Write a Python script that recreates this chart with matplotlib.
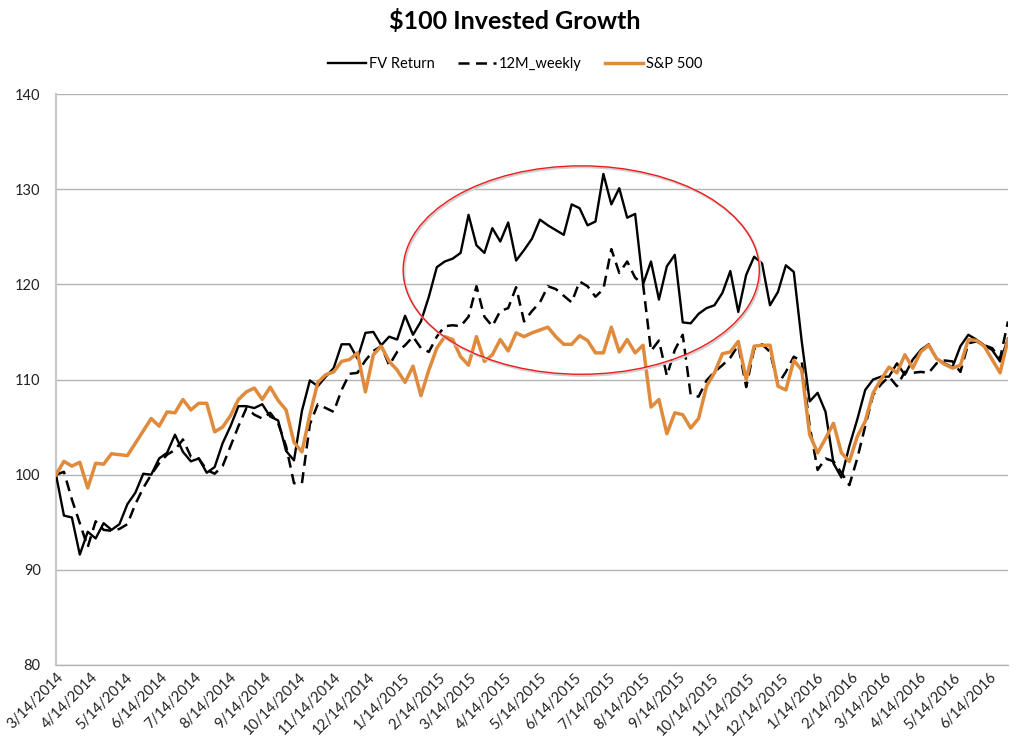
import matplotlib
matplotlib.use("Agg")
import matplotlib.pyplot as plt
import matplotlib.dates as mdates
from matplotlib.patches import Ellipse
import pandas as pd

plt.rcParams['font.family'] = ['Lato', 'DejaVu Sans']

start_date = "2014-03-14"
n_weeks = 121

fv_return = [
    100.0, 95.7, 95.5, 91.6, 94.0, 93.3, 94.9, 94.2, 94.8, 96.9,
    98.1, 100.1, 100.0, 101.7, 102.3, 104.2, 102.4, 101.4, 101.7, 100.2,
    100.8, 103.3, 105.1, 107.2, 107.2, 107.0, 107.4, 106.1, 105.7, 102.5,
    101.5, 106.7, 109.9, 109.3, 110.3, 111.2, 113.7, 113.7, 112.2, 114.9,
    115.0, 113.6, 114.5, 114.2, 116.7, 114.7, 116.1, 118.7, 121.8, 122.4,
    122.7, 123.3, 127.3, 124.1, 123.3, 125.9, 124.5, 126.5, 122.5, 123.6,
    124.8, 126.8, 126.2, 125.7, 125.2, 128.4, 128.0, 126.2, 126.6, 131.6,
    128.4, 130.1, 127.0, 127.4, 120.0, 122.4, 118.4, 121.9, 123.1, 116.0,
    115.9, 116.9, 117.5, 117.8, 119.1, 121.4, 117.1, 121.0, 122.9, 122.2,
    117.8, 119.2, 122.0, 121.3, 114.0, 107.7, 108.6, 106.6, 101.2, 99.7,
    103.0, 105.8, 108.9, 110.0, 110.3, 110.3, 111.7, 110.5, 112.1, 113.1,
    113.7, 112.2, 111.7, 111.3, 113.5, 114.7, 114.2, 113.6, 113.1, 111.9,
    114.3,
]

m12_weekly = [
    100.0, 100.3, 97.4, 94.9, 92.4, 95.1, 94.2, 94.1, 94.3, 94.8,
    96.9, 98.6, 100.0, 101.2, 102.1, 102.6, 103.7, 101.9, 101.7, 100.5,
    100.1, 100.9, 103.0, 105.1, 107.0, 106.3, 105.9, 106.5, 105.4, 103.0,
    99.1, 99.1, 105.3, 107.4, 107.0, 106.6, 108.9, 110.6, 110.7, 112.0,
    113.0, 113.5, 111.5, 112.9, 113.6, 114.5, 113.3, 112.9, 114.5, 115.6,
    115.7, 115.6, 116.6, 119.8, 116.6, 115.6, 117.2, 117.5, 119.7, 116.1,
    117.2, 118.1, 119.8, 119.5, 118.8, 118.1, 120.3, 119.8, 118.7, 119.5,
    123.7, 121.2, 122.4, 120.7, 120.0, 113.0, 114.1, 110.4, 113.1, 114.7,
    108.4, 108.2, 109.9, 110.8, 111.5, 112.3, 113.6, 109.2, 113.2, 113.7,
    112.9, 109.5, 110.8, 112.4, 111.9, 105.1, 100.5, 101.7, 101.4, 100.2,
    98.9, 101.7, 105.1, 108.4, 109.5, 110.3, 109.3, 110.8, 110.7, 110.8,
    110.7, 111.7, 112.0, 111.9, 110.8, 113.8, 114.0, 113.6, 113.3, 112.2,
    116.1,
]

sp500 = [
    100.0, 101.4, 100.9, 101.3, 98.6, 101.2, 101.1, 102.2, 102.1, 102.0,
    103.3, 104.6, 105.9, 105.1, 106.6, 106.5, 107.9, 106.8, 107.5, 107.5,
    104.5, 105.0, 106.2, 107.9, 108.7, 109.1, 107.9, 109.2, 107.8, 106.8,
    103.4, 102.4, 106.3, 109.7, 110.5, 110.8, 111.9, 112.1, 112.8, 108.7,
    112.6, 113.5, 111.9, 111.0, 109.7, 111.4, 108.3, 111.0, 113.3, 114.5,
    114.2, 112.4, 111.5, 114.5, 111.9, 112.6, 114.2, 113.0, 114.9, 114.5,
    114.9, 115.2, 115.5, 114.5, 113.7, 113.7, 114.6, 114.1, 112.8, 112.8,
    115.5, 112.9, 114.2, 112.8, 113.6, 107.1, 107.9, 104.3, 106.5, 106.3,
    104.9, 105.9, 109.3, 110.7, 112.7, 112.9, 114.0, 110.0, 113.5, 113.6,
    113.6, 109.3, 108.9, 112.0, 111.0, 104.2, 102.3, 103.8, 105.4, 102.3,
    101.4, 104.0, 105.6, 108.6, 110.0, 111.3, 110.7, 112.6, 111.2, 112.9,
    113.6, 112.2, 111.6, 111.2, 111.5, 114.2, 114.1, 113.5, 112.1, 110.7,
    114.2,
]

series_names = ["FV Return", "12M_weekly", "S&P 500"]
title_text = "$100 Invested Growth"
y_ticks = [80, 90, 100, 110, 120, 130, 140]

dates = pd.date_range(start_date, periods=n_weeks, freq="7D")
tick_dates = [pd.Timestamp(start_date) + pd.DateOffset(months=k) for k in range(28)]
tick_labels = [f"{d.month}/{d.day}/{d.year}" for d in tick_dates]

fig = plt.figure(figsize=(10.30, 7.47), dpi=100)
ax = fig.add_axes([56/1030, 1-665/747, (1008-56)/1030, (665-94)/747])

grid_color = "#b3b3b3"
ax.plot(dates, fv_return, color="black", lw=1.7, label=series_names[0], zorder=3)
ax.plot(dates, m12_weekly, color="black", lw=1.8, dashes=(4.4, 2.6), label=series_names[1], zorder=3)
ax.plot(dates, sp500, color="#E08A3C", lw=2.5, label=series_names[2], zorder=4)

ax.set_ylim(80, 140)
ax.set_yticks(y_ticks)
ax.set_xlim(dates[0], dates[-1])
ax.set_xticks(tick_dates)
ax.set_xticklabels(tick_labels, rotation=45, ha="right", rotation_mode="anchor", fontsize=10.5, color="#222222")
ax.tick_params(axis="both", length=0)
ax.tick_params(axis="x", pad=4)
ax.tick_params(axis="y", pad=11, labelsize=10.5, labelcolor="#222222")
ax.yaxis.grid(True, color=grid_color, lw=1.0)
ax.set_axisbelow(True)
for s in ["top", "right"]:
    ax.spines[s].set_visible(False)
ax.spines["left"].set_color("#c8c8c8")
ax.spines["left"].set_linewidth(1.5)
ax.spines["bottom"].set_color(grid_color)
ax.spines["bottom"].set_linewidth(1.0)

# red ellipse annotation
cx = mdates.date2num(pd.Timestamp(start_date) + pd.Timedelta(days=(581-56)/7.93*7))
w_days = 356/7.93*7
shadow = Ellipse((cx + 1.0, 121.35), w_days, 21.9, fill=False, edgecolor="#d0d0d0", lw=1.6, zorder=4.5)
ax.add_patch(shadow)
ell = Ellipse((cx, 121.5), w_days, 21.9, fill=False, edgecolor="#ee1c1c", lw=1.0, zorder=5)
ax.add_patch(ell)

fig.text(0.5, 1-21/747, title_text, ha="center", va="center", fontsize=18, fontweight="bold", color="black")
fig.legend(loc="center", bbox_to_anchor=(0.5, 1-64/747), ncol=3, frameon=False,
           fontsize=10.5, handlelength=2.6, columnspacing=1.6, handletextpad=0.2)

fig.savefig("out.png", dpi=100)
